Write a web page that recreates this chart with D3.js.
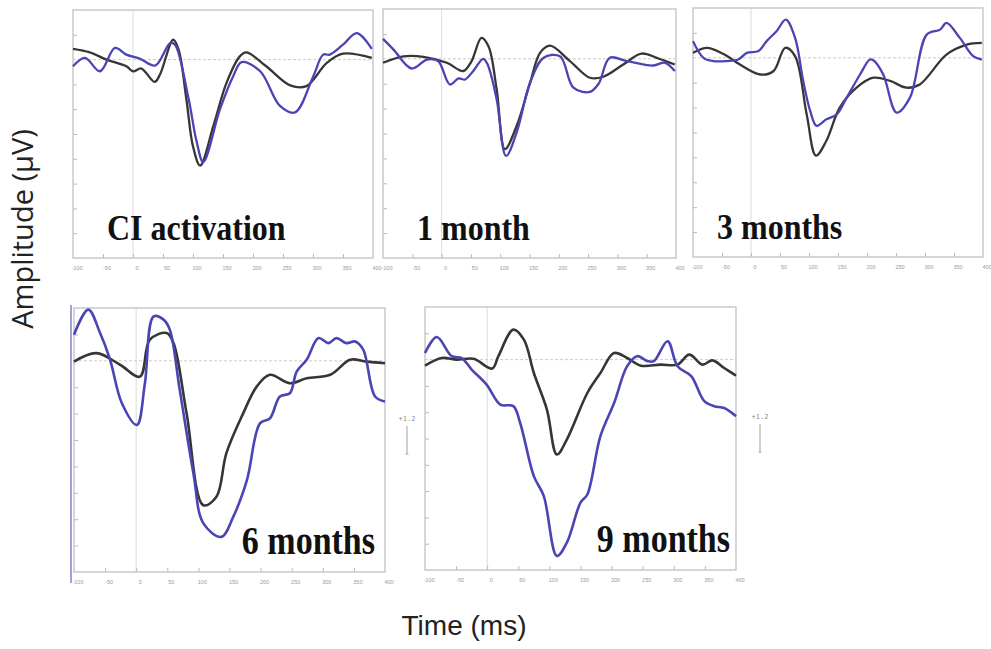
<!DOCTYPE html>
<html lang="en">
<head>
<meta charset="UTF-8">
<script src="https://d3js.org/d3.v7.min.js"></script>
<style>
  body { margin: 0; background: #fff; }
</style>
</head>
<body>
<svg id="erp" width="991" height="649"></svg>
<script>
// Data (time in ms, amplitude in axis units, 0 = baseline)
const timeTicks = [-100, -50, 0, 50, 100, 150, 200, 250, 300, 350, 400];
const ampTicks = [-7, -6, -5, -4, -3, -2, -1, 1];
const panelNames = ["CI activation", "1 month", "3 months", "6 months", "9 months"];

const ciBlack = [[-100,0.43],[-72,0.29],[-44,0],[-11,-0.27],[0,-0.47],[14,-0.36],[36,-0.9],[45,-0.6],[67,0.8],[76,0.4],[89,-1.6],[100,-3.5],[112,-4.27],[134,-2.67],[156,-0.93],[178,0.13],[189,0.29],[222,-0.27],[262,-1.04],[289,-1.07],[323,-0.13],[350,0.24],[398,0.07]];
const ciBlue = [[-100,-0.27],[-80,0.07],[-55,-0.47],[-30,0.47],[-11,0.2],[12,0.03],[37,-0.24],[62,0.67],[70,0.6],[92,-1.5],[106,-3.3],[117,-4.13],[145,-2],[167,-0.67],[181,-0.1],[212,-0.47],[245,-1.87],[270,-2.13],[300,-0.7],[317,0.2],[328,0.2],[350,0.6],[373,1.07],[398,0.43]];

const m1Black = [[-100,-0.16],[-65,0.1],[-31,0.08],[9,-0.16],[37,-0.49],[51,-0.1],[68,0.84],[80,0.5],[94,-1.23],[108,-3.63],[128,-2.7],[151,-0.96],[168,0.24],[185,0.53],[219,-0.09],[253,-0.76],[276,-0.72],[310,-0.23],[341,0.21],[367,0.04],[398,-0.23]];
const m1Blue = [[-100,0.8],[-82,0.37],[-51,-0.39],[-25,-0.03],[-6,-0.09],[14,-1.03],[29,-0.79],[40,-0.83],[54,-0.49],[71,0],[78,-0.2],[94,-1.63],[110,-3.9],[128,-2.96],[151,-0.96],[174,0.04],[202,0.1],[225,-1.16],[253,-1.33],[268,-1.0],[287,0.04],[316,-0.09],[361,-0.27],[381,-0.16],[398,-0.49]];

const m3Black = [[-100,0.2],[-76,0.4],[-48,0.16],[-19,-0.27],[16,-0.67],[39,-0.53],[59,0.4],[76,0.07],[96,-2.27],[112,-3.93],[130,-3.33],[153,-2],[182,-1.2],[211,-0.8],[240,-0.93],[268,-1.2],[291,-1.07],[337,0.13],[372,0.53],[398,0.6]];
const m3Blue = [[-100,0.67],[-82,0],[-65,-0.13],[-42,-0.13],[-22,-0.07],[-7,0.2],[13,0.27],[27,0.67],[44,1.07],[60,1.53],[76,0.8],[90,-0.93],[102,-2.13],[113,-2.73],[130,-2.47],[148,-2.27],[165,-1.6],[188,-0.67],[205,-0.07],[211,-0.1],[228,-0.67],[251,-2.2],[274,-1.6],[303,0.93],[326,1.13],[337,1.4],[360,0.8],[383,0.07],[398,-0.07]];

const m6Black = [[-100,-0.03],[-64,0.29],[-26,-0.15],[6,-0.6],[22,0.8],[49,1.05],[60,0.67],[81,-1.99],[108,-5.47],[129,-5.15],[145,-3.5],[172,-1.99],[194,-0.97],[215,-0.53],[247,-0.85],[274,-0.66],[312,-0.53],[344,0.04],[370,-0.03],[400,-0.09]];
const m6Blue = [[-100,0.99],[-77,1.94],[-58,1.05],[-42,0.04],[-23,-1.61],[1,-2.43],[14,-0.85],[28,1.68],[44,1.56],[54,1.18],[70,-1.1],[92,-4.27],[108,-6.16],[137,-6.67],[156,-5.91],[178,-4.52],[199,-2.37],[215,-2.18],[231,-1.35],[247,-1.23],[258,-0.41],[274,0.04],[293,0.86],[309,0.67],[322,0.86],[338,0.67],[352,0.73],[365,0.42],[384,-1.35],[400,-1.54]];

const m9Black = [[-100,-0.23],[-73,0.06],[-49,0],[-22,0.03],[8,-0.34],[18,0.13],[42,1.14],[59,0.76],[75,-0.51],[96,-1.9],[112,-3.61],[128,-3.04],[161,-1.27],[182,-0.51],[204,0.25],[225,0.06],[247,-0.23],[279,-0.19],[306,-0.19],[325,0.19],[346,-0.19],[362,-0.03],[381,-0.32],[400,-0.61]];
const m9Blue = [[-100,0.25],[-81,0.86],[-57,0.13],[-41,0.06],[-25,-0.38],[-1,-0.95],[21,-1.71],[42,-1.77],[53,-2.41],[75,-4.43],[91,-5.19],[112,-7.47],[128,-6.96],[150,-5.44],[161,-5.13],[182,-2.91],[204,-1.65],[225,-0.25],[241,0.13],[258,-0.06],[268,-0.06],[290,0.7],[306,-0.25],[328,-0.63],[349,-1.58],[365,-1.77],[381,-1.84],[400,-2.15]];

const blackSeries = [ciBlack, m1Black, m3Black, m6Black, m9Black];
const blueSeries = [ciBlue, m1Blue, m3Blue, m6Blue, m9Blue];

// Panel boxes on the page
const boxes = [
  { x0: 73, x1: 373, y0: 10, y1: 258, lx: 34, anchor: "start", fs: 32 },
  { x0: 383, x1: 676, y0: 9, y1: 258, lx: 34, anchor: "start", fs: 32 },
  { x0: 693, x1: 983, y0: 8, y1: 257, lx: 24, anchor: "start", fs: 32 },
  { x0: 74, x1: 385, y0: 308, y1: 572, lx: -10, anchor: "end", fs: 34 },
  { x0: 425, x1: 736, y0: 307, y1: 570, lx: -6, anchor: "end", fs: 34 }
];

const svg = d3.select("svg#erp");
const blackColor = "#363636";
const blueColor = "#4b44b4";

boxes.forEach((b, i) => {
  const x = d3.scaleLinear().domain([-100, 400]).range([b.x0, b.x1]);
  const y = d3.scaleLinear().domain([-8, 2]).range([b.y1, b.y0]);
  const g = svg.append("g").attr("class", "panel");

  // zero lines
  g.append("line")
    .attr("x1", x(0)).attr("x2", x(0)).attr("y1", b.y0).attr("y2", b.y1)
    .attr("stroke", "#dcdcdc").attr("stroke-width", 1);
  g.append("line")
    .attr("x1", b.x0).attr("x2", b.x1).attr("y1", y(0)).attr("y2", y(0))
    .attr("stroke", "#cccccc").attr("stroke-width", 1).attr("stroke-dasharray", "3,2");

  // y ticks (inside, left)
  const yAxis = d3.axisRight(y).tickValues(ampTicks).tickSize(4).tickFormat("");
  g.append("g").attr("transform", `translate(${b.x0},0)`).call(yAxis)
    .call(a => a.select(".domain").remove())
    .selectAll("line").attr("stroke", "#b8b8b8");

  // x ticks (inside, bottom) and tiny labels below
  const xAxis = d3.axisTop(x).tickValues(timeTicks.slice(1, -1)).tickSize(4).tickFormat("");
  g.append("g").attr("transform", `translate(0,${b.y1})`).call(xAxis)
    .call(a => a.select(".domain").remove())
    .selectAll("line").attr("stroke", "#b8b8b8");
  g.selectAll("text.tl").data(timeTicks).join("text")
    .attr("class", "tl")
    .attr("x", d => x(d) + 4)
    .attr("y", b.y1 + 12)
    .attr("text-anchor", "middle")
    .attr("font-family", "Liberation Sans, Arial, sans-serif")
    .attr("font-size", 5.5)
    .attr("fill", "#9a9a9a")
    .text(d => d);

  // frame
  g.append("rect")
    .attr("x", b.x0).attr("y", b.y0)
    .attr("width", b.x1 - b.x0).attr("height", b.y1 - b.y0)
    .attr("fill", "none").attr("stroke", "#c9c9c9").attr("stroke-width", 1.5);

  const line = d3.line()
    .x(d => x(d[0]))
    .y(d => y(d[1]))
    .curve(d3.curveCatmullRom.alpha(0.5));
  const sw = i < 3 ? 2.3 : 2.6;
  g.append("path").datum(blackSeries[i]).attr("d", line)
    .attr("fill", "none").attr("stroke", blackColor).attr("stroke-width", sw);
  g.append("path").datum(blueSeries[i]).attr("d", line)
    .attr("fill", "none").attr("stroke", blueColor).attr("stroke-width", sw);

  // panel label
  const lx = b.anchor === "start" ? b.x0 + b.lx : b.x1 + b.lx;
  const ly = b.y1 - 18;
  g.append("text")
    .attr("transform", `translate(${lx},${ly}) scale(1,1.15)`)
    .attr("text-anchor", b.anchor)
    .attr("font-family", "Liberation Serif, Times New Roman, serif")
    .attr("font-weight", "bold")
    .attr("font-size", b.fs)
    .attr("fill", "#111")
    .text(panelNames[i]);
});

// purple edge line left of the 6-month panel
svg.append("line")
  .attr("x1", 71).attr("x2", 71).attr("y1", 305).attr("y2", 583)
  .attr("stroke", "#a3a0d6").attr("stroke-width", 2);

// calibration bars
[[407, 421], [760, 419]].forEach(([cx, cy]) => {
  svg.append("text")
    .attr("x", cx).attr("y", cy)
    .attr("text-anchor", "middle")
    .attr("font-family", "DejaVu Sans Mono, monospace")
    .attr("font-size", 7)
    .attr("fill", "#8a8a8a")
    .text("+1.2");
  svg.append("line")
    .attr("x1", cx).attr("x2", cx).attr("y1", cy + 5).attr("y2", cy + 33)
    .attr("stroke", "#a0a0a0").attr("stroke-width", 1);
  svg.append("line")
    .attr("x1", cx - 1.5).attr("x2", cx + 1.5).attr("y1", cy + 33).attr("y2", cy + 33)
    .attr("stroke", "#a0a0a0").attr("stroke-width", 1);
});

// axis titles
svg.append("text")
  .attr("transform", "translate(33,229) rotate(-90)")
  .attr("text-anchor", "middle")
  .attr("font-family", "Open Sans, sans-serif")
  .attr("font-size", 29)
  .attr("fill", "#222")
  .text("Amplitude (µV)");

svg.append("text")
  .attr("x", 464).attr("y", 635)
  .attr("text-anchor", "middle")
  .attr("font-family", "Liberation Sans, Arial, sans-serif")
  .attr("font-size", 28)
  .attr("fill", "#222")
  .text("Time (ms)");
</script>
</body>
</html>
